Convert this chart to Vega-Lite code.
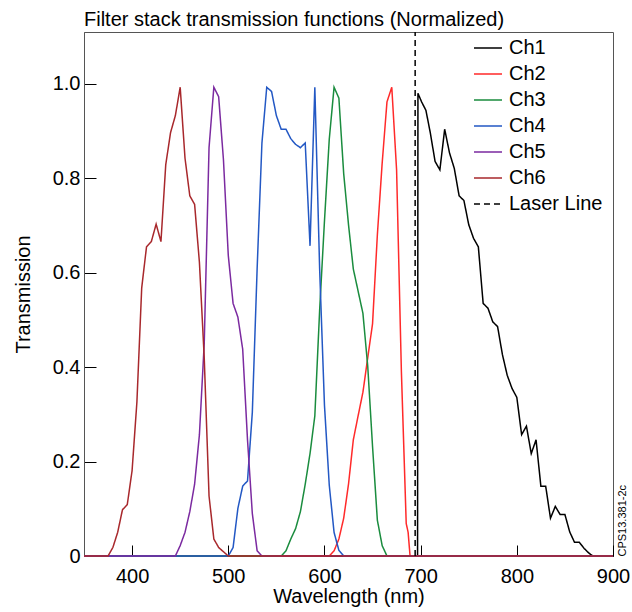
{
  "$schema": "https://vega.github.io/schema/vega-lite/v6.json",
  "width": 529,
  "height": 524,
  "autosize": {"type": "none"},
  "padding": {"left": 84, "top": 32, "right": 19, "bottom": 56},
  "background": "white",
  "title": {"text": "Filter stack transmission functions (Normalized)", "anchor": "start", "frame": "group", "baseline": "bottom", "offset": -19, "fontSize": 20, "font": "Liberation Sans", "fontWeight": "normal", "color": "black"},
  "config": {
    "font": "Liberation Sans",
    "view": {"stroke": "#555", "strokeWidth": 1},
    "axis": {"grid": false, "labelFontSize": 20, "titleFontSize": 20, "titleFontWeight": "normal", "labelColor": "black", "titleColor": "black", "tickColor": "black", "domainColor": "#555", "labelFlush": false, "labelFont": "Liberation Sans", "titleFont": "Liberation Sans"},
    "legend": {"labelFont": "Liberation Sans"}
  },
  "data": {"values": [
    {"ch":"Ch1","wl":350,"t":0},{"ch":"Ch1","wl":696.8,"t":0},{"ch":"Ch1","wl":697.2,"t":0.98},{"ch":"Ch1","wl":701,"t":0.962},{"ch":"Ch1","wl":705.5,"t":0.944},{"ch":"Ch1","wl":710,"t":0.897},{"ch":"Ch1","wl":715,"t":0.836},{"ch":"Ch1","wl":720,"t":0.818},{"ch":"Ch1","wl":725,"t":0.904},{"ch":"Ch1","wl":730,"t":0.854},{"ch":"Ch1","wl":735,"t":0.821},{"ch":"Ch1","wl":740,"t":0.763},{"ch":"Ch1","wl":745,"t":0.753},{"ch":"Ch1","wl":750,"t":0.702},{"ch":"Ch1","wl":755,"t":0.673},{"ch":"Ch1","wl":760,"t":0.655},{"ch":"Ch1","wl":765,"t":0.535},{"ch":"Ch1","wl":770,"t":0.525},{"ch":"Ch1","wl":775,"t":0.496},{"ch":"Ch1","wl":780,"t":0.486},{"ch":"Ch1","wl":785,"t":0.427},{"ch":"Ch1","wl":790,"t":0.383},{"ch":"Ch1","wl":795,"t":0.355},{"ch":"Ch1","wl":800,"t":0.336},{"ch":"Ch1","wl":805,"t":0.257},{"ch":"Ch1","wl":810,"t":0.275},{"ch":"Ch1","wl":815,"t":0.217},{"ch":"Ch1","wl":820,"t":0.246},{"ch":"Ch1","wl":825,"t":0.148},{"ch":"Ch1","wl":830,"t":0.148},{"ch":"Ch1","wl":835,"t":0.08},{"ch":"Ch1","wl":840,"t":0.105},{"ch":"Ch1","wl":845,"t":0.088},{"ch":"Ch1","wl":850,"t":0.088},{"ch":"Ch1","wl":855,"t":0.051},{"ch":"Ch1","wl":860,"t":0.029},{"ch":"Ch1","wl":865,"t":0.029},{"ch":"Ch1","wl":870,"t":0.016},{"ch":"Ch1","wl":875,"t":0.006},{"ch":"Ch1","wl":879,"t":0},{"ch":"Ch1","wl":900,"t":0},
    {"ch":"Ch2","wl":350,"t":0},{"ch":"Ch2","wl":605,"t":0},{"ch":"Ch2","wl":610,"t":0.011},{"ch":"Ch2","wl":615,"t":0.036},{"ch":"Ch2","wl":620,"t":0.08},{"ch":"Ch2","wl":625,"t":0.152},{"ch":"Ch2","wl":630,"t":0.246},{"ch":"Ch2","wl":635,"t":0.297},{"ch":"Ch2","wl":640,"t":0.347},{"ch":"Ch2","wl":645,"t":0.42},{"ch":"Ch2","wl":650,"t":0.492},{"ch":"Ch2","wl":655,"t":0.68},{"ch":"Ch2","wl":660,"t":0.832},{"ch":"Ch2","wl":665,"t":0.962},{"ch":"Ch2","wl":670,"t":0.993},{"ch":"Ch2","wl":675,"t":0.818},{"ch":"Ch2","wl":680,"t":0.39},{"ch":"Ch2","wl":685,"t":0.069},{"ch":"Ch2","wl":687,"t":0.05},{"ch":"Ch2","wl":689,"t":0},{"ch":"Ch2","wl":900,"t":0},
    {"ch":"Ch3","wl":350,"t":0},{"ch":"Ch3","wl":555,"t":0},{"ch":"Ch3","wl":560,"t":0.011},{"ch":"Ch3","wl":565,"t":0.036},{"ch":"Ch3","wl":570,"t":0.058},{"ch":"Ch3","wl":575,"t":0.094},{"ch":"Ch3","wl":580,"t":0.152},{"ch":"Ch3","wl":585,"t":0.217},{"ch":"Ch3","wl":590,"t":0.297},{"ch":"Ch3","wl":595,"t":0.521},{"ch":"Ch3","wl":600,"t":0.709},{"ch":"Ch3","wl":605,"t":0.883},{"ch":"Ch3","wl":610,"t":0.993},{"ch":"Ch3","wl":615,"t":0.97},{"ch":"Ch3","wl":620,"t":0.81},{"ch":"Ch3","wl":625,"t":0.702},{"ch":"Ch3","wl":630,"t":0.608},{"ch":"Ch3","wl":635,"t":0.561},{"ch":"Ch3","wl":640,"t":0.514},{"ch":"Ch3","wl":645,"t":0.402},{"ch":"Ch3","wl":650,"t":0.232},{"ch":"Ch3","wl":655,"t":0.076},{"ch":"Ch3","wl":660,"t":0.022},{"ch":"Ch3","wl":665,"t":0},{"ch":"Ch3","wl":900,"t":0},
    {"ch":"Ch4","wl":350,"t":0},{"ch":"Ch4","wl":500,"t":0},{"ch":"Ch4","wl":505,"t":0.018},{"ch":"Ch4","wl":510,"t":0.101},{"ch":"Ch4","wl":515,"t":0.148},{"ch":"Ch4","wl":520,"t":0.159},{"ch":"Ch4","wl":525,"t":0.304},{"ch":"Ch4","wl":530,"t":0.608},{"ch":"Ch4","wl":535,"t":0.875},{"ch":"Ch4","wl":540,"t":0.993},{"ch":"Ch4","wl":545,"t":0.984},{"ch":"Ch4","wl":550,"t":0.933},{"ch":"Ch4","wl":555,"t":0.904},{"ch":"Ch4","wl":560,"t":0.904},{"ch":"Ch4","wl":565,"t":0.884},{"ch":"Ch4","wl":570,"t":0.872},{"ch":"Ch4","wl":575,"t":0.865},{"ch":"Ch4","wl":580,"t":0.875},{"ch":"Ch4","wl":585,"t":0.657},{"ch":"Ch4","wl":590,"t":0.993},{"ch":"Ch4","wl":595,"t":0.608},{"ch":"Ch4","wl":600,"t":0.32},{"ch":"Ch4","wl":605,"t":0.15},{"ch":"Ch4","wl":610,"t":0.05},{"ch":"Ch4","wl":615,"t":0.012},{"ch":"Ch4","wl":620,"t":0},{"ch":"Ch4","wl":900,"t":0},
    {"ch":"Ch5","wl":350,"t":0},{"ch":"Ch5","wl":445,"t":0},{"ch":"Ch5","wl":450,"t":0.022},{"ch":"Ch5","wl":455,"t":0.05},{"ch":"Ch5","wl":460,"t":0.094},{"ch":"Ch5","wl":465,"t":0.152},{"ch":"Ch5","wl":470,"t":0.257},{"ch":"Ch5","wl":475,"t":0.45},{"ch":"Ch5","wl":480,"t":0.865},{"ch":"Ch5","wl":485,"t":0.993},{"ch":"Ch5","wl":490,"t":0.973},{"ch":"Ch5","wl":495,"t":0.839},{"ch":"Ch5","wl":500,"t":0.637},{"ch":"Ch5","wl":505,"t":0.535},{"ch":"Ch5","wl":510,"t":0.506},{"ch":"Ch5","wl":515,"t":0.438},{"ch":"Ch5","wl":520,"t":0.246},{"ch":"Ch5","wl":525,"t":0.09},{"ch":"Ch5","wl":530,"t":0.011},{"ch":"Ch5","wl":535,"t":0},{"ch":"Ch5","wl":900,"t":0},
    {"ch":"Ch6","wl":350,"t":0},{"ch":"Ch6","wl":375,"t":0},{"ch":"Ch6","wl":380,"t":0.018},{"ch":"Ch6","wl":385,"t":0.05},{"ch":"Ch6","wl":390,"t":0.098},{"ch":"Ch6","wl":395,"t":0.109},{"ch":"Ch6","wl":400,"t":0.181},{"ch":"Ch6","wl":405,"t":0.326},{"ch":"Ch6","wl":410,"t":0.568},{"ch":"Ch6","wl":415,"t":0.655},{"ch":"Ch6","wl":420,"t":0.666},{"ch":"Ch6","wl":425,"t":0.703},{"ch":"Ch6","wl":430,"t":0.666},{"ch":"Ch6","wl":435,"t":0.829},{"ch":"Ch6","wl":440,"t":0.897},{"ch":"Ch6","wl":445,"t":0.933},{"ch":"Ch6","wl":450,"t":0.993},{"ch":"Ch6","wl":455,"t":0.843},{"ch":"Ch6","wl":460,"t":0.763},{"ch":"Ch6","wl":465,"t":0.745},{"ch":"Ch6","wl":470,"t":0.622},{"ch":"Ch6","wl":475,"t":0.42},{"ch":"Ch6","wl":480,"t":0.127},{"ch":"Ch6","wl":485,"t":0.036},{"ch":"Ch6","wl":490,"t":0.018},{"ch":"Ch6","wl":495,"t":0.009},{"ch":"Ch6","wl":500,"t":0},{"ch":"Ch6","wl":900,"t":0}
  ]},
  "layer": [
    {
      "mark": {"type": "line", "strokeWidth": 1.5},
      "encoding": {
        "x": {"field": "wl", "type": "quantitative", "scale": {"domain": [350, 900], "nice": false, "zero": false},
              "axis": {"title": "Wavelength (nm)", "values": [400, 500, 600, 700, 800, 900], "tickSize": -11, "labelPadding": 21, "titlePadding": 0, "domainColor": "black"}},
        "y": {"field": "t", "type": "quantitative", "scale": {"domain": [0, 1.11], "nice": false},
              "axis": {"title": "Transmission", "values": [0, 0.2, 0.4, 0.6, 0.8, 1.0], "tickSize": -12, "labelPadding": 16, "titlePadding": 19, "labelExpr": "datum.value == 0 ? '0' : format(datum.value, '.1f')"}},
        "color": {"field": "ch", "type": "nominal",
                  "scale": {"domain": ["Ch1","Ch2","Ch3","Ch4","Ch5","Ch6","Laser Line"], "range": ["#000000","#ff2a2a","#1a8c3e","#2358c4","#7b2aa0","#a8282c","#000000"]},
                  "legend": {"title": null, "orient": "none", "legendX": 389, "legendY": 1, "symbolType": "stroke", "symbolSize": 784, "symbolStrokeWidth": 1.5, "labelFontSize": 20, "labelOffset": 6, "rowPadding": 1, "padding": 0, "labelColor": "black"}},
        "strokeDash": {"field": "ch", "type": "nominal",
                  "scale": {"domain": ["Ch1","Ch2","Ch3","Ch4","Ch5","Ch6","Laser Line"], "range": [[1,0],[1,0],[1,0],[1,0],[1,0],[1,0],[6,4]]},
                  "legend": {"title": null, "orient": "none", "legendX": 389, "legendY": 1, "symbolType": "stroke", "symbolSize": 784, "symbolStrokeWidth": 1.5, "labelFontSize": 20, "labelOffset": 6, "rowPadding": 1, "padding": 0, "labelColor": "black"}}
      }
    },
    {
      "data": {"values": [{"ch": "Laser Line", "wl": 694.3, "lo": 0, "hi": 1.11}]},
      "mark": {"type": "rule", "strokeWidth": 1.5},
      "encoding": {
        "x": {"field": "wl", "type": "quantitative"},
        "y": {"field": "lo", "type": "quantitative", "axis": {"orient": "right", "title": "CPS13.381-2c", "labels": false, "ticks": false, "domain": false, "titleFontSize": 11, "titleAngle": 270, "titleAnchor": "start", "titlePadding": 3, "titleBaseline": "top"}},
        "y2": {"field": "hi"},
        "color": {"field": "ch", "type": "nominal"},
        "strokeDash": {"field": "ch", "type": "nominal"}
      }
    }
  ],
  "resolve": {"axis": {"y": "independent"}}
}
